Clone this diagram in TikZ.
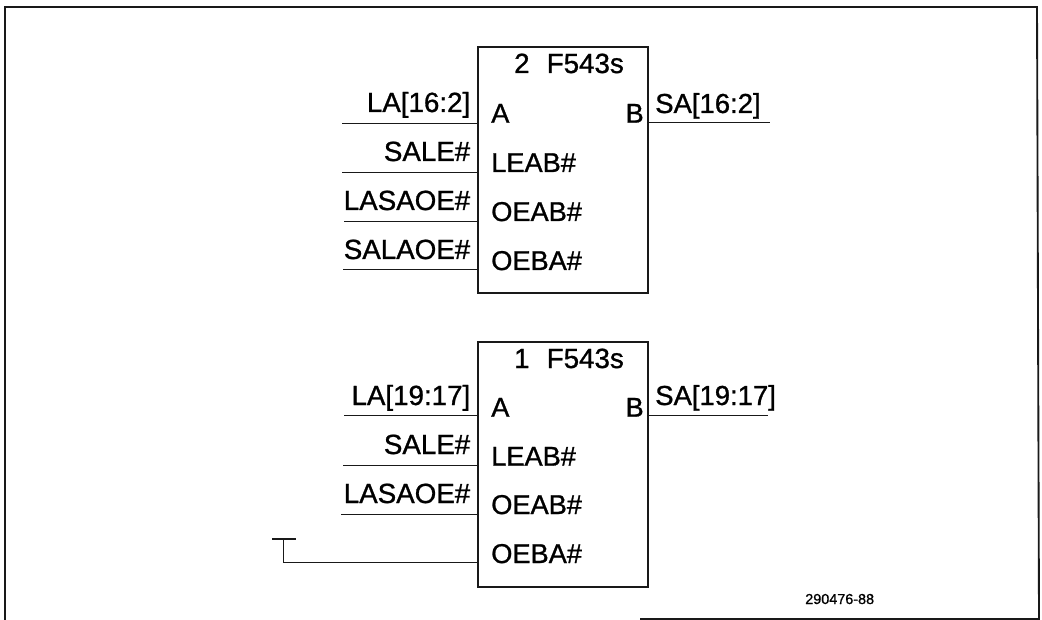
\documentclass[tikz,border=0pt]{standalone}
\usepackage{fontspec}
\setmainfont[RawFeature={embolden=1}]{Liberation Sans}
\tikzset{
  x=0.75pt,y=-0.75pt,
  wire/.style={line width=1.3pt,black!90},
  frameline/.style={line width=1.4pt,black!90},
  chip/.style={draw=black!90,line width=1.3pt,minimum width=127.5pt,inner sep=0pt,outer sep=0pt,anchor=north west},
  sig/.style={font=\fontsize{20.8}{21}\selectfont,inner sep=0pt,anchor=base east},
  sigr/.style={font=\fontsize{20.6}{21}\selectfont,inner sep=0pt,anchor=base west},
  pin/.style={font=\fontsize{20.4}{21}\selectfont,inner sep=0pt,anchor=base west},
  ttl/.style={font=\fontsize{20.8}{21}\selectfont,inner sep=0pt,anchor=base},
  code/.style={font=\fontsize{10.8}{11}\selectfont,inner sep=0pt,anchor=base west}
}
\begin{document}
\begin{tikzpicture}
\useasboundingbox (0,0) rectangle (1042,620);
\draw[frameline] (5,620) -- (5,7) -- (1037,7) -- (1039,619) -- (640,619);
% upper
\node[chip,minimum height=184.5pt] (u) at (478,47) {};
\coordinate (ua) at (342,123.5); \coordinate (us) at (342,172.5);
\coordinate (ul) at (344,221.5); \coordinate (uo) at (343,269.5); \coordinate (ub) at (770,122.5);
\draw[wire] (ua) -- (ua -| u.west);
\draw[wire] (us) -- (us -| u.west);
\draw[wire] (ul) -- (ul -| u.west);
\draw[wire] (uo) -- (uo -| u.west);
\draw[wire] (ub -| u.east) -- (ub);
\node[ttl] (ut) at (569,73) {2\hspace{0.62em}F543s};
\node[sig] (l1) at (470.5,112) {LA[16:2]};
\node[sig] (l2) at (470.5,161) {SALE\#};
\node[sig] (l3) at (470.5,210) {LASAOE\#};
\node[sig] (l4) at (470.5,259) {SALAOE\#};
\node[sigr] (r1) at (655,113) {SA[16:2]};
\node[pin] (p1) at (491,122.7) {A};
\node[pin] (p2) at (491,172) {LEAB\#};
\node[pin] (p3) at (491,221) {OEAB\#};
\node[pin] (p4) at (491,270) {OEBA\#};
\node[pin,anchor=base east] (p5) at (644,122.7) {B};
% lower
\node[chip,minimum height=183.75pt] (d) at (478,342) {};
\coordinate (da) at (344,415.5); \coordinate (ds) at (343,465.5);
\coordinate (dl) at (341,514.5); \coordinate (dv) at (283.5,562.5); \coordinate (db) at (768,415.5);
\coordinate (dtl) at (272,539); \coordinate (dtr) at (295.5,539); \coordinate (dt) at (283.5,539);
\draw[wire] (da) -- (da -| d.west);
\draw[wire] (ds) -- (ds -| d.west);
\draw[wire] (dl) -- (dl -| d.west);
\draw[wire] (dt) -- (dv) -- (dv -| d.west);
\draw[wire] (dtl) -- (dtr);
\draw[wire] (db -| d.east) -- (db);
\node[ttl] (dt1) at (569,368) {1\hspace{0.62em}F543s};
\node[sig] (m1) at (470.5,405) {LA[19:17]};
\node[sig] (m2) at (470.5,454) {SALE\#};
\node[sig] (m3) at (470.5,503) {LASAOE\#};
\node[sigr] (q1) at (655,405) {SA[19:17]};
\node[pin] (n1) at (491,416.7) {A};
\node[pin] (n2) at (491,465.7) {LEAB\#};
\node[pin] (n3) at (491,514) {OEAB\#};
\node[pin] (n4) at (491,563) {OEBA\#};
\node[pin,anchor=base east] (n5) at (644,416.7) {B};
\node[code] (c) at (805,604) {290476-88};
\end{tikzpicture}
\end{document}
